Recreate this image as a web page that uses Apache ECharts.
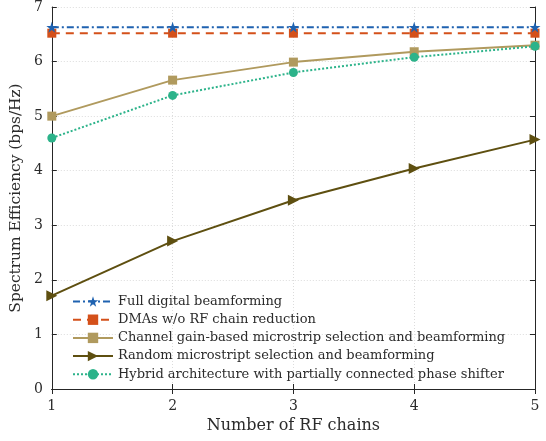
<!DOCTYPE html>
<html>
<head>
<meta charset="utf-8">
<script src="https://cdn.jsdelivr.net/npm/echarts@6/dist/echarts.min.js"></script>
<style>html,body{margin:0;padding:0;background:#fff}#c{width:546px;height:441px}</style>
</head>
<body>
<div id="c"></div>
<script>
const rfChains = [1, 2, 3, 4, 5];
const fullDigital = [6.63, 6.63, 6.63, 6.63, 6.63];
const dmaNoReduction = [6.52, 6.52, 6.52, 6.52, 6.52];
const channelGain = [5.00, 5.66, 5.99, 6.18, 6.30];
const randomSel = [1.71, 2.71, 3.46, 4.04, 4.57];
const hybrid = [4.60, 5.38, 5.80, 6.08, 6.28];
const seriesNames = [
  'Full digital beamforming',
  'DMAs w/o RF chain reduction',
  'Channel gain-based microstrip selection and beamforming',
  'Random microstript selection and beamforming',
  'Hybrid architecture with partially connected phase shifter'
];
const yTicks = [0, 1, 2, 3, 4, 5, 6, 7];

const FONT = 'DejaVu Serif';
const star = 'path://M50,0 L61.8,35.1 L98.1,35.1 L68.8,56.8 L79.4,91.9 L50,70.3 L20.6,91.9 L31.2,56.8 L1.9,35.1 L38.2,35.1 Z';
const pts = arr => rfChains.map((x, i) => [x, arr[i]]);

const chart = echarts.init(document.getElementById('c'), null, {renderer: 'canvas'});
const axisLineColor = '#262626';
const textColor = '#2b2b2b';
const gridLine = {show: true, lineStyle: {color: '#dcdcdc', type: [1, 2], width: 1}};

chart.setOption({
  animation: false,
  backgroundColor: '#fff',
  textStyle: {fontFamily: FONT},
  grid: {left: 51, right: 11, top: 6, bottom: 52},
  legend: {
    orient: 'vertical', left: 67, top: 290,
    itemWidth: 40, itemHeight: 13, itemGap: 5.2,
    textStyle: {fontFamily: FONT, fontSize: 13, color: textColor},
    data: seriesNames
  },
  xAxis: [{
    type: 'value', min: 1, max: 5, interval: 1,
    name: 'Number of RF chains', nameLocation: 'middle', nameGap: 29,
    nameTextStyle: {fontFamily: FONT, fontSize: 16, color: textColor},
    axisLine: {lineStyle: {color: axisLineColor, width: 1}},
    axisTick: {inside: true, length: 5, lineStyle: {color: axisLineColor}},
    axisLabel: {fontFamily: FONT, fontSize: 14, color: textColor, margin: 10},
    splitLine: gridLine
  }, {
    type: 'value', min: 1, max: 5, interval: 1, position: 'top',
    axisLine: {lineStyle: {color: axisLineColor, width: 1}},
    axisTick: {inside: true, length: 5, lineStyle: {color: axisLineColor}},
    axisLabel: {show: false}, splitLine: {show: false}
  }],
  yAxis: [{
    type: 'value', min: yTicks[0], max: yTicks[yTicks.length - 1], interval: 1,
    name: 'Spectrum Efficiency (bps/Hz)', nameLocation: 'middle', nameGap: 21,
    nameTextStyle: {fontFamily: FONT, fontSize: 15.4, color: textColor},
    axisLine: {show: true, lineStyle: {color: axisLineColor, width: 1}},
    axisTick: {show: true, inside: true, length: 5, lineStyle: {color: axisLineColor}},
    axisLabel: {fontFamily: FONT, fontSize: 14, color: textColor, margin: 9},
    splitLine: gridLine
  }, {
    type: 'value', min: yTicks[0], max: yTicks[yTicks.length - 1], interval: 1, position: 'right',
    axisLine: {show: true, lineStyle: {color: axisLineColor, width: 1}},
    axisTick: {show: true, inside: true, length: 5, lineStyle: {color: axisLineColor}},
    axisLabel: {show: false}, splitLine: {show: false}
  }],
  series: [
    {name: seriesNames[0], type: 'line', data: pts(fullDigital), symbol: star, symbolSize: 11,
     lineStyle: {color: '#1f62b0', width: 2, type: [7, 3, 2, 3]}, itemStyle: {color: '#1f62b0'}, z: 5},
    {name: seriesNames[1], type: 'line', data: pts(dmaNoReduction), symbol: 'rect', symbolSize: 9,
     lineStyle: {color: '#d4501a', width: 2, type: [8, 6]}, itemStyle: {color: '#d4501a'}, z: 4},
    {name: seriesNames[2], type: 'line', data: pts(channelGain), symbol: 'rect', symbolSize: 9,
     lineStyle: {color: '#b09a5e', width: 2, type: 'solid'}, itemStyle: {color: '#b09a5e'}, z: 3},
    {name: seriesNames[3], type: 'line', data: pts(randomSel), symbol: 'triangle', symbolRotate: -90, symbolSize: 11,
     lineStyle: {color: '#5e4f10', width: 2, type: 'solid'}, itemStyle: {color: '#5e4f10'}, z: 3},
    {name: seriesNames[4], type: 'line', data: pts(hybrid), symbol: 'circle', symbolSize: 9,
     lineStyle: {color: '#2cb38a', width: 2, type: [2, 2]}, itemStyle: {color: '#2cb38a'}, z: 3}
  ]
});
</script>
</body>
</html>
